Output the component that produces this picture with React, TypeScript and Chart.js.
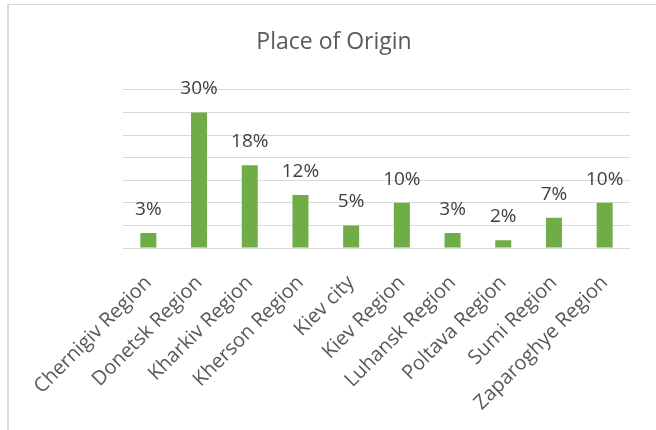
import React, { useEffect, useRef } from "react";
import { Chart, registerables } from "chart.js";

Chart.register(...registerables);

const categories = [
  "Chernigiv Region",
  "Donetsk Region",
  "Kharkiv Region",
  "Kherson Region",
  "Kiev city",
  "Kiev Region",
  "Luhansk Region",
  "Poltava Region",
  "Sumi Region",
  "Zaparoghye Region",
];
const percentages = [3.3, 30.0, 18.3, 11.7, 5.0, 10.0, 3.3, 1.7, 6.7, 10.0];
const chartTitle = "Place of Origin";

const FONT = "'Open Sans', sans-serif";

const dataLabelPlugin = {
  id: "dataLabels",
  afterDatasetsDraw(chart: any) {
    const ctx = chart.ctx;
    const meta = chart.getDatasetMeta(0);
    ctx.save();
    ctx.font = `19px ${FONT}`;
    ctx.fillStyle = "#404040";
    ctx.textAlign = "center";
    ctx.textBaseline = "alphabetic";
    meta.data.forEach((bar: any, i: number) => {
      const v = chart.data.datasets[0].data[i] as number;
      ctx.fillText(`${Math.round(v)}%`, bar.x, bar.y - 18);
    });
    ctx.restore();
  },
};

const titlePlugin = {
  id: "customTitle",
  afterDraw(chart: any) {
    const ctx = chart.ctx;
    ctx.save();
    ctx.font = `23px ${FONT}`;
    ctx.fillStyle = "#595959";
    ctx.textAlign = "center";
    ctx.textBaseline = "alphabetic";
    ctx.fillText(chartTitle, 334, 49);
    ctx.restore();
  },
};

export default function App() {
  const canvasRef = useRef<HTMLCanvasElement | null>(null);

  useEffect(() => {
    if (!canvasRef.current) return;
    const chart = new Chart(canvasRef.current, {
      type: "bar",
      data: {
        labels: categories,
        datasets: [
          {
            data: percentages,
            backgroundColor: "#70AD47",
            borderWidth: 0,
            barPercentage: 0.316,
            categoryPercentage: 1,
          },
        ],
      },
      options: {
        animation: false,
        responsive: false,
        maintainAspectRatio: false,
        layout: { padding: { left: 123, right: 26, top: 89.8, bottom: 0 } },
        plugins: {
          legend: { display: false },
          tooltip: { enabled: false },
          title: { display: false },
        },
        scales: {
          x: {
            grid: { display: false, drawTicks: false },
            border: { display: false },
            ticks: {
              color: "#595959",
              font: { family: FONT, size: 20 },
              minRotation: 45,
              maxRotation: 45,
              autoSkip: false,
              padding: 23,
            },
            afterFit(scale: any) {
              scale.height = 182;
            },
          },
          y: {
            min: 0,
            max: 35,
            ticks: { display: false, stepSize: 5 },
            grid: { color: "#d9d9d9", lineWidth: 1, drawTicks: false },
            border: { display: false },
            afterFit(scale: any) {
              scale.width = 0;
            },
          },
        },
      },
      plugins: [dataLabelPlugin, titlePlugin],
    });
    return () => chart.destroy();
  }, []);

  return (
    <div
      style={{
        position: "fixed",
        left: 0,
        top: 0,
        width: 656,
        height: 430,
        background: "#ffffff",
      }}
    >
      <div
        style={{
          position: "absolute",
          left: 7,
          top: 4,
          right: 0,
          bottom: 0,
          borderLeft: "2px solid #d9d9d9",
          borderTop: "1px solid #d9d9d9",
        }}
      />
      <canvas
        ref={canvasRef}
        width={656}
        height={430}
        style={{ position: "absolute", left: 0, top: 0, width: 656, height: 430 }}
      />
    </div>
  );
}
